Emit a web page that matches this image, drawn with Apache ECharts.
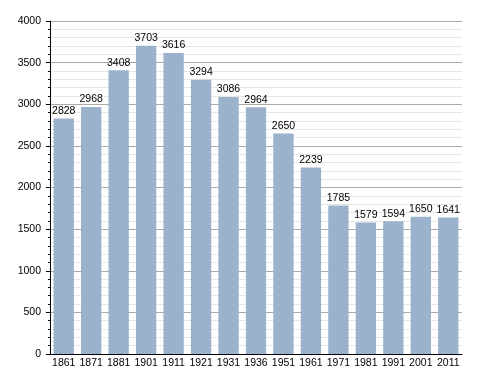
<!DOCTYPE html>
<html><head><meta charset="utf-8">
<script src="https://cdn.jsdelivr.net/npm/echarts@6/dist/echarts.min.js"></script>
<style>html,body{margin:0;padding:0;background:#fff}#c{width:488px;height:373px}</style>
</head><body><div id="c"></div>
<script>
const categories = ['1861','1871','1881','1901','1911','1921','1931','1936','1951','1961','1971','1981','1991','2001','2011'];
const population = [2828,2968,3408,3703,3616,3294,3086,2964,2650,2239,1785,1579,1594,1650,1641];
const yTicks = [0,500,1000,1500,2000,2500,3000,3500,4000];

const chart = echarts.init(document.getElementById('c'));
chart.setOption({
  animation: false,
  grid: {left: 50, right: 26, top: 21, bottom: 19},
  xAxis: {
    type: 'category', data: categories,
    axisLine: {show: true, lineStyle: {color: '#000', width: 1}},
    axisTick: {show: false},
    axisLabel: {interval: 0, hideOverlap: false, color: '#000', fontFamily: 'Liberation Sans, Arial, sans-serif', fontSize: 10.5, margin: 4}
  },
  yAxis: {
    type: 'value', min: yTicks[0], max: yTicks[yTicks.length-1], interval: 500,
    axisLine: {show: true, lineStyle: {color: '#000', width: 1}},
    axisTick: {show: true, length: 4, lineStyle: {color: '#000'}},
    minorTick: {show: true, splitNumber: 5, length: 2, lineStyle: {color: '#000'}},
    splitLine: {show: true, lineStyle: {color: '#aaaaaa', width: 1}},
    minorSplitLine: {show: true, lineStyle: {color: '#e6e6e6', width: 1}},
    axisLabel: {formatter: v => String(v), color: '#000', fontFamily: 'Liberation Sans, Arial, sans-serif', fontSize: 10.5, margin: 9}
  },
  series: [{
    type: 'bar', data: population, barCategoryGap: '26%',
    itemStyle: {color: '#9bb2cd'},
    label: {show: true, position: 'top', distance: 2, color: '#000',
      fontFamily: 'Liberation Sans, Arial, sans-serif', fontSize: 10.5}
  }]
});
</script></body></html>
